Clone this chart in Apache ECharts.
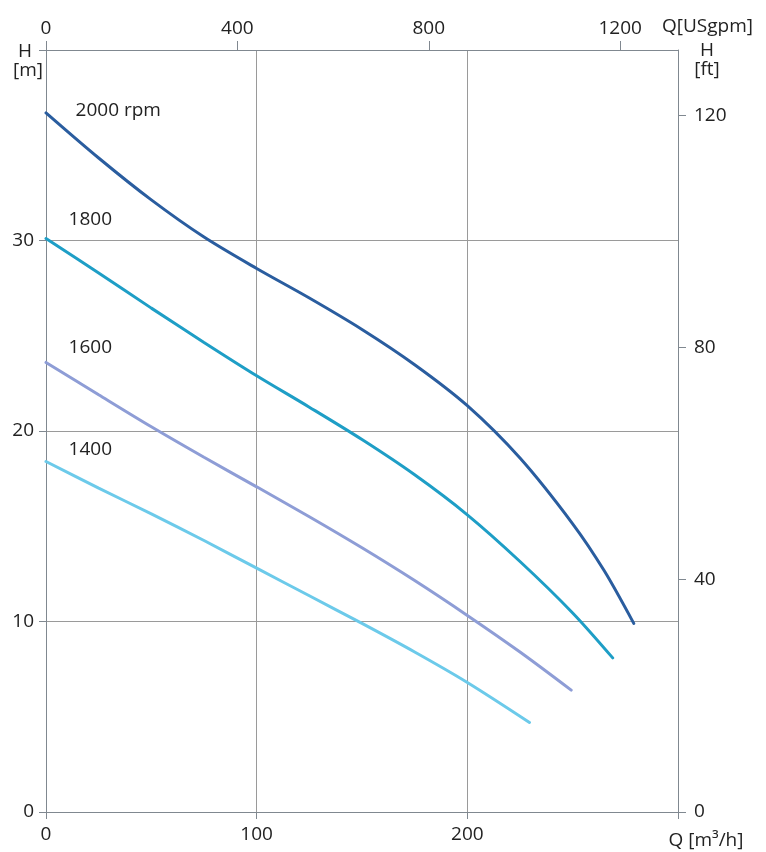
<!DOCTYPE html>
<html>
<head>
<meta charset="utf-8">
<script src="https://cdn.jsdelivr.net/npm/echarts@6/dist/echarts.min.js"></script>
<style>
html,body{margin:0;padding:0;background:#fff;}
#chart{width:766px;height:852px;}
</style>
</head>
<body>
<div id="chart"></div>
<script>
// ---- data (Q in m3/h, H in m) ----
const curve2000 = [[0,36.7],[25,34.33],[50,32.13],[75,30.18],[100,28.53],[125,26.98],[150,25.33],[175,23.48],[200,21.33],[225,18.58],[250,15.13],[265,12.66],[279,9.9]];
const curve1800 = [[0,30.1],[25,28.3],[50,26.45],[75,24.65],[100,22.9],[125,21.25],[150,19.55],[175,17.7],[200,15.6],[225,13.15],[250,10.45],[269,8.09]];
const curve1600 = [[0,23.6],[25,21.9],[50,20.22],[75,18.62],[100,17.07],[125,15.5],[150,13.87],[175,12.15],[200,10.32],[225,8.4],[249.3,6.4]];
const curve1400 = [[0,18.4],[25,17.0],[50,15.65],[75,14.25],[100,12.8],[125,11.35],[150,9.9],[175,8.4],[200,6.8],[229.5,4.7]];
const curveNames = ['2000 rpm','1800','1600','1400'];
const labelAnchors = [[13.8,36.8],[10.5,31.1],[10.5,24.4],[10.5,19.0]];
const qTicksM3h = [0,100,200];
const qTicksUSgpm = [0,400,800,1200];
const hTicksM = [0,10,20,30];
const hTicksFt = [0,40,80,120];
const Q_MAX = 300, H_MAX = 40;
const M3H_TO_USGPM = 4.4029, M_TO_FT = 1/0.3048;

const FONT = '"Open Sans", "Noto Sans", sans-serif';
const FS = 19;
const TXT = '#222';
const AXIS = '#808890';
const GRIDC = '#9a9a9a';
const colors = ['#2a5d9f','#1e9ec6','#8e9dd6','#6ccaea'];
const curves = [curve2000, curve1800, curve1600, curve1400];

const chart = echarts.init(document.getElementById('chart'), null, {renderer:'canvas'});

function showOnly(list){ return v => list.includes(Math.round(v)) ? String(Math.round(v)) : ''; }

const option = {
  backgroundColor:'#fff',
  animation:false,
  grid:{left:46,right:88,top:50,bottom:40,containLabel:false},
  xAxis:[
    {type:'value',position:'bottom',min:0,max:Q_MAX,interval:100,
     axisLine:{show:true,onZero:false,lineStyle:{color:AXIS,width:1}},
     axisTick:{show:true,length:7,lineStyle:{color:AXIS}},
     axisLabel:{margin:13,fontSize:FS,color:TXT,fontFamily:FONT,formatter:showOnly(qTicksM3h)},
     splitLine:{show:true,lineStyle:{color:GRIDC,width:1}}},
    {type:'value',position:'top',min:0,max:Q_MAX*M3H_TO_USGPM,interval:400,
     axisLine:{show:true,onZero:false,lineStyle:{color:AXIS,width:1}},
     axisTick:{show:true,length:9,lineStyle:{color:AXIS}},
     axisLabel:{margin:12,fontSize:FS,color:TXT,fontFamily:FONT,formatter:showOnly(qTicksUSgpm),showMaxLabel:false},
     splitLine:{show:false}}
  ],
  yAxis:[
    {type:'value',position:'left',min:0,max:H_MAX,interval:10,
     axisLine:{show:true,onZero:false,lineStyle:{color:AXIS,width:1}},
     axisTick:{show:true,length:7,lineStyle:{color:AXIS}},
     axisLabel:{margin:12,fontSize:FS,color:TXT,fontFamily:FONT,formatter:showOnly(hTicksM)},
     splitLine:{show:true,lineStyle:{color:GRIDC,width:1}}},
    {type:'value',position:'right',min:0,max:H_MAX*M_TO_FT,interval:40,
     axisLine:{show:true,onZero:false,lineStyle:{color:AXIS,width:1}},
     axisTick:{show:true,length:8,lineStyle:{color:AXIS}},
     axisLabel:{margin:16,fontSize:FS,color:TXT,fontFamily:FONT,formatter:showOnly(hTicksFt),showMaxLabel:false},
     splitLine:{show:false}}
  ],
  series: curves.map((c,i)=>({
    type:'line', name:curveNames[i], xAxisIndex:0, yAxisIndex:0,
    data:c, smooth:0.3, showSymbol:false, symbol:'none',
    lineStyle:{color:colors[i],width:3,cap:'round'},
    itemStyle:{color:colors[i]},
    markPoint:{
      symbol:'circle', symbolSize:1, silent:true,
      itemStyle:{color:'rgba(0,0,0,0)'},
      label:{show:true,position:'right',distance:0,color:TXT,fontSize:FS,fontFamily:FONT,formatter:curveNames[i]},
      data:[{coord:labelAnchors[i]}]
    }
  })),
  graphic:[
    {type:'text',style:{text:'H',x:25,y:52,align:'center',verticalAlign:'middle',fontSize:FS,fontFamily:FONT,fill:TXT}},
    {type:'text',style:{text:'[m]',x:28,y:71,align:'center',verticalAlign:'middle',fontSize:FS,fontFamily:FONT,fill:TXT}},
    {type:'text',style:{text:'H',x:707,y:51,align:'center',verticalAlign:'middle',fontSize:FS,fontFamily:FONT,fill:TXT}},
    {type:'text',style:{text:'[ft]',x:707,y:70,align:'center',verticalAlign:'middle',fontSize:FS,fontFamily:FONT,fill:TXT}},
    {type:'text',style:{text:'Q[USgpm]',x:662,y:27,align:'left',verticalAlign:'middle',fontSize:FS,fontFamily:FONT,fill:TXT}},
    {type:'text',style:{text:'Q [m³/h]',x:706,y:841,align:'center',verticalAlign:'middle',fontSize:FS,fontFamily:FONT,fill:TXT}}
  ]
};
chart.setOption(option);
</script>
</body>
</html>
